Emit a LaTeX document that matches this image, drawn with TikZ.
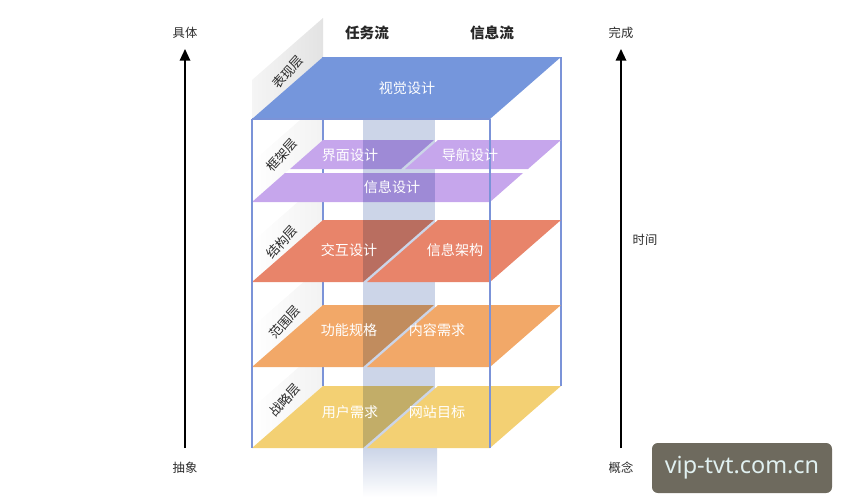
\documentclass[tikz,border=0pt]{standalone}
\usepackage{fontspec}
\setmainfont{Noto Sans CJK SC}
\newfontfamily\wmfont{Noto Sans}
\usepackage{xcolor}
\usetikzlibrary{arrows.meta}

\definecolor{boxblue}{HTML}{7B93D8}
\definecolor{topblue}{HTML}{7596DC}
\definecolor{layerpurple}{HTML}{C6A6EC}
\definecolor{layercoral}{HTML}{E8846A}
\definecolor{layerorange}{HTML}{F2A868}
\definecolor{layeryellow}{HTML}{F3D073}
\definecolor{stripblue}{HTML}{CCD5E8}
\definecolor{wmgray}{HTML}{6E6A5E}
\definecolor{wmtext}{HTML}{E0F0F0}
\definecolor{labelgray}{HTML}{2A2A2A}

\tikzset{
  boxline/.style={draw=boxblue, line width=1.3pt},
  planetext/.style={text=white, inner sep=0pt, font=\fontsize{12}{12}\selectfont},
  layerlabel/.style={text=labelgray, rotate=48, inner sep=0pt, font=\fontsize{11}{11}\selectfont},
  sidetext/.style={text=labelgray, font=\fontsize{10.5}{10.5}\selectfont},
  headtext/.style={text=black!85, font=\fontsize{12.5}{12.5}\selectfont\bfseries},
  bigarrow/.style={line width=1.4pt, -{Triangle[length=10pt,width=9pt]}}
}

\begin{document}
\begin{tikzpicture}[x=0.03cm,y=-0.03cm]
\useasboundingbox (0,0) rectangle (845,501);

% Define coordinates for the box corners
\coordinate (FTL) at (252,119);
\coordinate (FTR) at (490,119);
\coordinate (FBL) at (252,448);
\coordinate (FBR) at (490,448);
\coordinate (BTL) at (323,57);
\coordinate (BTR) at (561,57);
\coordinate (BBL) at (323,386);
\coordinate (BBR) at (561,386);

% Left side panels behind the layer names
\shade[left color=black!4, right color=black!11] (252,119) -- (323,57) -- (323,18) -- (252,80) -- cycle;
\shade[left color=white, right color=black!5] (252,202) -- (323,140) -- (323,100) -- (252,162) -- cycle;
\shade[left color=white, right color=black!5] (252,282) -- (323,220) -- (323,180) -- (252,242) -- cycle;
\shade[left color=white, right color=black!5] (252,367) -- (323,305) -- (323,265) -- (252,327) -- cycle;
\shade[left color=white, right color=black!5] (252,448) -- (323,386) -- (323,346) -- (252,408) -- cycle;

% Draw the back edges of the box
\draw[boxline] (BTL) -- (BBL);
\draw[boxline] (BTR) -- (BBR);

% Left halves of the layers
\fill[layerpurple] (290,169) -- (401,169) -- (434,140) -- (323,140) -- cycle;
\fill[layerpurple] (252,202) -- (490,202) -- (523,173) -- (285,173) -- cycle;
\fill[layercoral] (252,282) -- (363,282) -- (434,220) -- (323,220) -- cycle;
\fill[layerorange] (252,367) -- (363,367) -- (434,305) -- (323,305) -- cycle;
\fill[layeryellow] (FBL) -- (363,448) -- (434,386) -- (BBL) -- cycle;

% Task flow column
\fill[stripblue, blend mode=multiply] (363,119) rectangle (435,448);
\shade[top color=stripblue, bottom color=white] (363,448) rectangle (437,497);

% Right halves of the layers
\fill[layerpurple] (405,169) -- (528,169) -- (561,140) -- (438,140) -- cycle;
\fill[layercoral] (367,282) -- (490,282) -- (561,220) -- (438,220) -- cycle;
\fill[layerorange] (367,367) -- (490,367) -- (561,305) -- (438,305) -- cycle;
\fill[layeryellow] (367,448) -- (FBR) -- (BBR) -- (438,386) -- cycle;

% Draw the top layer
\fill[topblue] (FTL) -- (FTR) -- (BTR) -- (BTL) -- cycle;

% Draw the front edges of the box
\draw[boxline] (FTL) -- (FBL);
\draw[boxline] (FTR) -- (FBR);
\draw[boxline] (FTL) -- (FTR);

% Labels on the layers
\node[planetext] (visual) at (407,88) {视觉设计};
\node[planetext] (iface) at (350,155) {界面设计};
\node[planetext] (navi) at (470,155) {导航设计};
\node[planetext] (infodesign) at (392,187) {信息设计};
\node[planetext] (interact) at (349,250) {交互设计};
\node[planetext] (infoarch) at (455,250) {信息架构};
\node[planetext] (funcspec) at (349,330) {功能规格};
\node[planetext] (content) at (437,330) {内容需求};
\node[planetext] (userneed) at (350,412) {用户需求};
\node[planetext] (sitegoal) at (437,412) {网站目标};

% Layer names
\node[layerlabel] (surface) at (288,72) {表现层};
\node[layerlabel] (skeleton) at (282,155) {框架层};
\node[layerlabel] (structure) at (282,242) {结构层};
\node[layerlabel] (scope) at (285,322) {范围层};
\node[layerlabel] (strategy) at (285,400) {战略层};

% Column headings
\node[headtext] (taskflow) at (367,33) {任务流};
\node[headtext] (infoflow) at (492,33) {信息流};

% Left arrow
\node[sidetext] (concrete) at (185,33) {具体};
\node[sidetext] (abstract) at (185,468) {抽象};
\coordinate (LA) at (185,448);
\coordinate (LB) at (185,49);
\draw[bigarrow] (LA) -- (LB);

% Right arrow
\node[sidetext] (complete) at (621,33) {完成};
\node[sidetext] (concept) at (621,468) {概念};
\node[sidetext] (time) at (645,240) {时间};
\coordinate (RA) at (621,448);
\coordinate (RB) at (621,49);
\draw[bigarrow] (RA) -- (RB);

% Watermark
\node[fill=wmgray, rounded corners=5pt, minimum width=180*0.03cm, minimum height=50*0.03cm, text=wmtext, font=\wmfont\fontsize{20}{20}\selectfont] (mark) at (742,468) {vip-tvt.com.cn};
\end{tikzpicture}
\end{document}
